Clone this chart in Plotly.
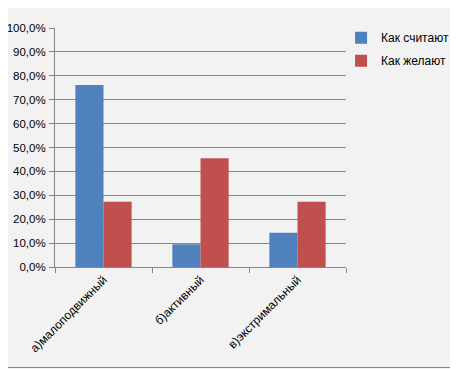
import plotly.graph_objects as go

categories = ["а)малоподвижный", "б)активный", "в)экстримальный"]
series_names = ["Как считают", "Как желают"]
kak_schitayut = [0.762, 0.095, 0.143]
kak_zhelayut = [0.273, 0.455, 0.273]
colors = ["#4f81bd", "#c0504d"]

# page body has an 8px margin, so the figure is drawn 8px smaller and offset
OFF = 8
W, H = 458 - OFF, 369 - OFF
ml, mr, mt, mb = 55 - OFF, 112, 28 - OFF, 102

fig = go.Figure()
for name, vals, c in zip(series_names, [kak_schitayut, kak_zhelayut], colors):
    fig.add_trace(go.Bar(x=categories, y=vals, name=name, marker_color=c,
                         marker_line_width=0, legendgroup=name))

pw = W - ml - mr
ph = H - mt - mb
# right and bottom edges of the outer chart border
fig.add_shape(type="line", xref="paper", yref="paper",
              x0=1 + (mr - 1.5) / pw, x1=1 + (mr - 1.5) / pw,
              y0=-(mb - 1.5) / ph, y1=1 + mt / ph,
              line=dict(color="#868686", width=1), layer="below")
fig.add_shape(type="line", xref="paper", yref="paper",
              x0=-ml / pw, x1=1 + (mr - 1.5) / pw,
              y0=-(mb - 1.5) / ph, y1=-(mb - 1.5) / ph,
              line=dict(color="#868686", width=1), layer="below")

fig.update_layout(
    width=W, height=H,
    margin=dict(l=ml, r=mr, t=mt, b=mb, pad=0, autoexpand=False),
    paper_bgcolor="#f2f2f2", plot_bgcolor="#f2f2f2",
    separators=", ",
    bargap=0.42, bargroupgap=0,
    font=dict(family="Liberation Sans, Arial, sans-serif", size=12, color="#000000"),
    legend=dict(x=0.983, y=1.02, xanchor="left", yanchor="top",
                traceorder="grouped", tracegroupgap=4,
                font=dict(size=12), bgcolor="rgba(0,0,0,0)",
                itemwidth=30),
    xaxis=dict(type="category", tickangle=-45, showline=True, linecolor="#868686",
               ticks="outside", ticklen=5, tickcolor="#868686", tickson="boundaries",
               showgrid=False, tickfont=dict(size=12), automargin=False),
    yaxis=dict(range=[0, 1], tickvals=[i / 10 for i in range(11)], tickformat=".1%",
               showline=True, linecolor="#868686", ticks="outside", ticklen=5,
               tickcolor="#868686", showgrid=True, gridcolor="#868686", gridwidth=1,
               zeroline=False, tickfont=dict(size=11.5), automargin=False,
               ticklabelstandoff=1),
)

fig.write_html("out.html")
